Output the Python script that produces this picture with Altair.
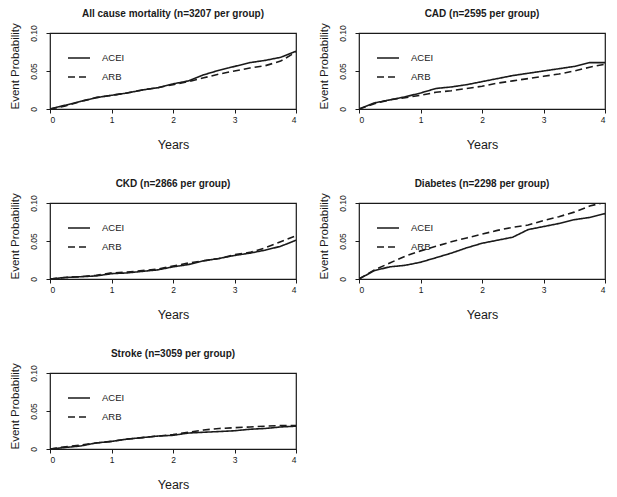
import altair as alt
import pandas as pd

years = [0, 0.25, 0.5, 0.75, 1.0, 1.25, 1.5, 1.75, 2.0, 2.25, 2.5, 2.75, 3.0, 3.25, 3.5, 3.75, 4.0]
groups = ["ACEI", "ARB"]

titles = [
    "All cause mortality (n=3207 per group)",
    "CAD (n=2595 per group)",
    "CKD (n=2866 per group)",
    "Diabetes (n=2298 per group)",
    "Stroke (n=3059 per group)",
]

mort_acei = [0, 0.005, 0.010, 0.015, 0.018, 0.021, 0.025, 0.028, 0.033, 0.037, 0.045, 0.051, 0.056, 0.061, 0.064, 0.068, 0.076]
mort_arb = [0, 0.004, 0.010, 0.015, 0.018, 0.021, 0.025, 0.028, 0.032, 0.036, 0.041, 0.046, 0.050, 0.054, 0.057, 0.063, 0.075]

cad_acei = [0, 0.008, 0.012, 0.016, 0.021, 0.027, 0.029, 0.032, 0.036, 0.040, 0.044, 0.047, 0.050, 0.053, 0.056, 0.061, 0.061]
cad_arb = [0, 0.007, 0.012, 0.015, 0.018, 0.022, 0.024, 0.027, 0.030, 0.034, 0.037, 0.040, 0.043, 0.046, 0.050, 0.055, 0.059]

ckd_acei = [0, 0.002, 0.003, 0.004, 0.007, 0.008, 0.010, 0.012, 0.016, 0.019, 0.024, 0.027, 0.031, 0.034, 0.038, 0.043, 0.051]
ckd_arb = [0, 0.002, 0.003, 0.005, 0.008, 0.009, 0.011, 0.013, 0.017, 0.021, 0.024, 0.027, 0.032, 0.035, 0.041, 0.049, 0.057]

dm_acei = [0, 0.011, 0.016, 0.018, 0.022, 0.028, 0.034, 0.041, 0.047, 0.051, 0.055, 0.065, 0.069, 0.073, 0.078, 0.081, 0.086]
dm_arb = [0, 0.012, 0.021, 0.030, 0.037, 0.043, 0.049, 0.054, 0.059, 0.064, 0.068, 0.071, 0.077, 0.082, 0.088, 0.096, 0.101]

stroke_acei = [0, 0.002, 0.004, 0.008, 0.010, 0.013, 0.015, 0.017, 0.018, 0.021, 0.022, 0.023, 0.024, 0.026, 0.027, 0.029, 0.030]
stroke_arb = [0, 0.003, 0.005, 0.008, 0.010, 0.013, 0.015, 0.017, 0.019, 0.022, 0.025, 0.027, 0.028, 0.029, 0.030, 0.031, 0.031]

series = [
    (mort_acei, mort_arb),
    (cad_acei, cad_arb),
    (ckd_acei, ckd_arb),
    (dm_acei, dm_arb),
    (stroke_acei, stroke_arb),
]

FONT = "Liberation Sans"
INK = "#1a1a1a"


def panel(title, acei, arb):
    rows = []
    for g, vals in zip(groups, (acei, arb)):
        for t, p in zip(years, vals):
            rows.append({"years": t, "prob": p, "group": g})
    df = pd.DataFrame(rows)
    return (
        alt.Chart(
            df,
            title=alt.TitleParams(
                title, font=FONT, fontSize=10, fontWeight="bold", color=INK,
                anchor="middle", offset=4, frame="group",
            ),
        )
        .mark_line(clip=True, color=INK, strokeWidth=1.6)
        .encode(
            x=alt.X(
                "years:Q",
                scale=alt.Scale(domain=[0, 4], nice=False),
                axis=alt.Axis(
                    title="Years", values=[0, 1, 2, 3, 4], format="d",
                    domain=False, grid=False, tickSize=4, tickColor=INK,
                    labelFont=FONT, labelFontSize=8.5, labelColor=INK, labelPadding=2,
                    titleFont=FONT, titleFontSize=12.5, titleFontWeight="normal",
                    titleColor=INK, titlePadding=15,
                ),
            ),
            y=alt.Y(
                "prob:Q",
                scale=alt.Scale(domain=[0, 0.1], nice=False),
                axis=alt.Axis(
                    title="Event Probability", values=[0, 0.05, 0.1],
                    labelExpr="datum.value == 0 ? '0' : format(datum.value, '.2f')",
                    domain=False, grid=False, tickSize=4, tickColor=INK,
                    labelFont=FONT, labelFontSize=8.5, labelColor=INK,
                    labelAngle=270, labelAlign="center", labelBaseline="bottom",
                    labelPadding=8,
                    titleFont=FONT, titleFontSize=11.5, titleFontWeight="normal",
                    titleColor=INK, titlePadding=9, titleAnchor="start",
                ),
            ),
            strokeDash=alt.StrokeDash(
                "group:N",
                scale=alt.Scale(domain=groups, range=[[1, 0], [7, 4]]),
                legend=alt.Legend(
                    title=None, orient="none", legendX=17, legendY=13,
                    symbolType="stroke", symbolStrokeColor=INK, symbolStrokeWidth=1.6,
                    symbolSize=484, labelFont=FONT, labelFontSize=9.5, labelColor=INK,
                    labelOffset=11, rowPadding=2,
                ),
            ),
        )
        .properties(width=246, height=76)
    )


panels = [panel(t, a, b) for t, (a, b) in zip(titles, series)]

chart = (
    alt.concat(*panels, columns=2, spacing={"row": 94, "column": 63}, bounds="flush")
    .resolve_legend(strokeDash="independent")
    .properties(padding={"left": 0, "top": 0, "right": 0, "bottom": 0}, background="white")
    .configure_view(stroke=INK, strokeWidth=1.2)
)

chart.save("out.html", embed_options={"renderer": "svg", "actions": False})
